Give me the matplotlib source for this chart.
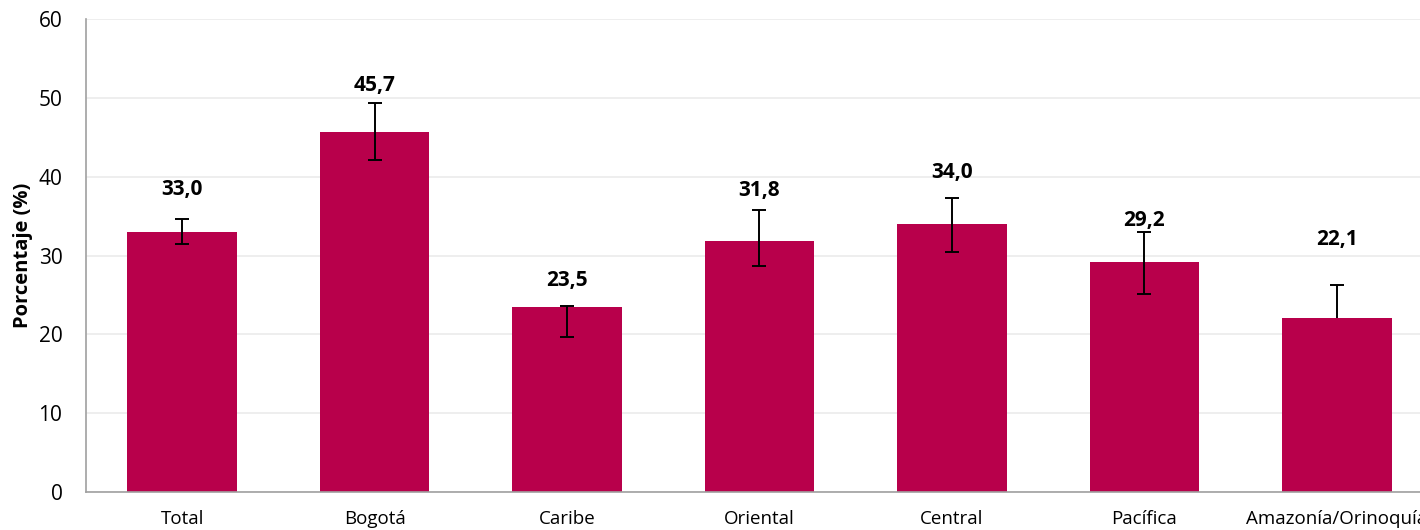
import numpy as np
import matplotlib
matplotlib.use('Agg')
import matplotlib.pyplot as plt

plt.rcParams['font.family'] = ['Open Sans', 'DejaVu Sans']

#data
regions = ['Total', 'Bogotá', 'Caribe', 'Oriental', 'Central', 'Pacífica', 'Amazonía/Orinoquía']
values = [33.0, 45.7, 23.5, 31.8, 34.0, 29.2, 22.1]
upper = [34.6, 49.4, 23.6, 35.8, 37.3, 33.0, 26.3]
lower = [31.5, 42.1, 19.6, 28.7, 30.5, 25.1, 22.1]

#label height above bar (manual placement, as in the original)
label_offset = [5.4, 5.9, 3.3, 6.4, 6.5, 5.3, 9.9]

bar_color = '#B8004B'

fig = plt.figure(figsize=(14.2, 5.3), dpi=100)
ax = fig.add_axes([86 / 1420, 38 / 530, 1347 / 1420, 473 / 530])

x = np.arange(len(regions))
values_arr = np.array(values)
upper_arr = np.array(upper)
lower_arr = np.array(lower)
yerr = [values_arr - lower_arr, upper_arr - values_arr]

ax.bar(x, values, width=0.57, color=bar_color, zorder=2)

#whiskers
ax.errorbar(x, values, yerr=yerr, fmt='none', ecolor='black', elinewidth=1.4,
            capsize=0, zorder=3)

#caps only where the error is not zero
up_mask = upper_arr > values_arr
lo_mask = lower_arr < values_arr
ax.plot(x[up_mask], upper_arr[up_mask], ls='none', marker='_', ms=10, mew=1.4,
        color='black', zorder=3)
ax.plot(x[lo_mask], lower_arr[lo_mask], ls='none', marker='_', ms=10, mew=1.4,
        color='black', zorder=3)

for xi, v, off in zip(x, values, label_offset):
    ax.text(xi, v + off, f'{v:.1f}'.replace('.', ','), ha='center', va='center',
            fontsize=15, fontweight='bold', color='black', zorder=4)

ax.set_xlim(-0.5, len(regions) - 0.5)
ax.set_ylim(0, 60)
ax.set_yticks(range(0, 61, 10))
ax.set_xticks(x)
ax.set_xticklabels(regions, fontsize=13.5)
ax.tick_params(axis='y', labelsize=15, length=0, pad=17)
ax.tick_params(axis='x', length=0, pad=13)

ax.set_ylabel('Porcentaje (%)', fontsize=14.5, fontweight='bold', labelpad=4)

#grid
ax.yaxis.grid(True, color='#EBEBEB', linewidth=1.2, zorder=0)
ax.set_axisbelow(True)

for side in ['top', 'right']:
    ax.spines[side].set_visible(False)
for side in ['left', 'bottom']:
    ax.spines[side].set_color('#A0A0A0')
    ax.spines[side].set_linewidth(1.2)

fig.savefig('out.png', dpi=100)
